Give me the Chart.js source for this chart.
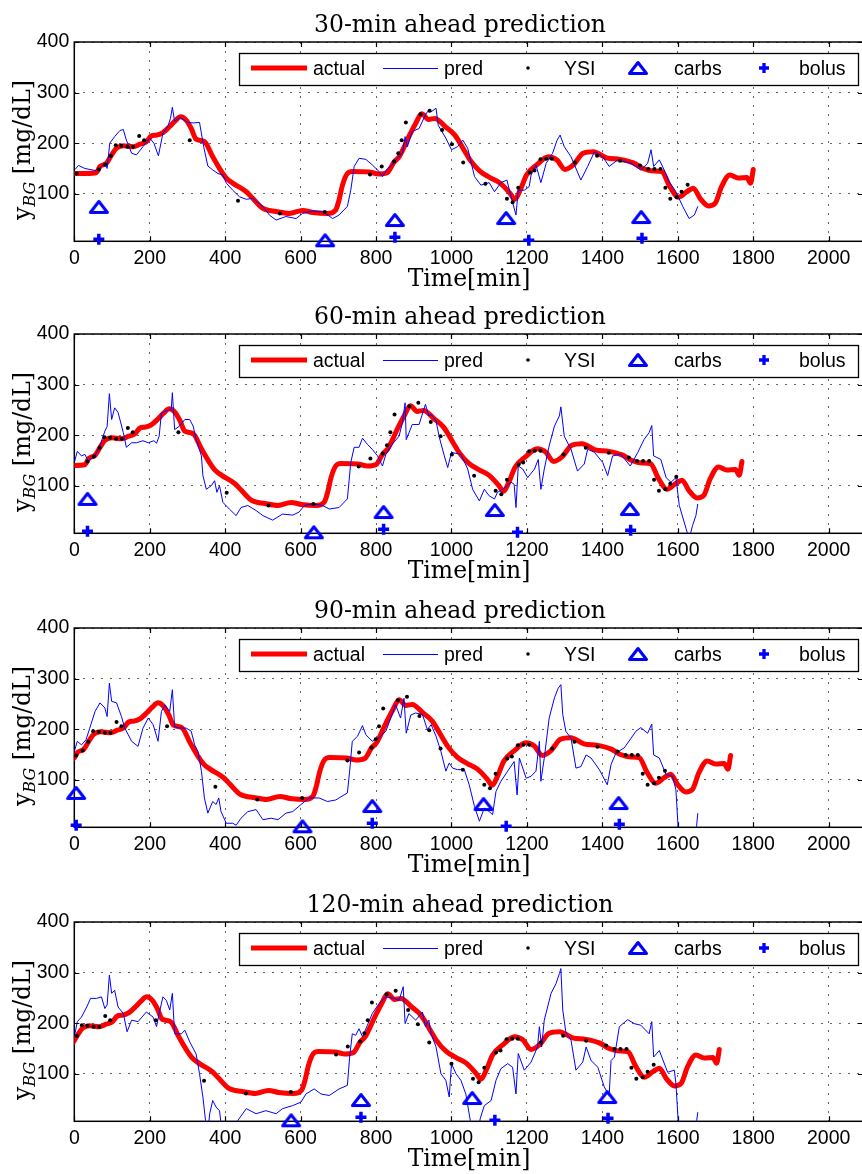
<!DOCTYPE html>
<html>
<head>
<meta charset="utf-8">
<script src="https://cdn.jsdelivr.net/npm/chart.js@4.4.1/dist/chart.umd.min.js"></script>
<style>
  html, body { margin: 0; padding: 0; background: #fff; overflow: hidden; }
  canvas { position: absolute; left: 0; }
</style>
</head>
<body>
<canvas id="c0" width="864" height="294" style="top:0px"></canvas>
<canvas id="c1" width="864" height="294" style="top:292px"></canvas>
<canvas id="c2" width="864" height="294" style="top:586px"></canvas>
<canvas id="c3" width="864" height="294" style="top:880px"></canvas>
<script>
/* Dados: [tempo (min), glicose (mg/dL)] */

const titles = ["30-min ahead prediction", "60-min ahead prediction", "90-min ahead prediction", "120-min ahead prediction"]
const shifts = [0, 30, 60, 90]   // deslocamento de tempo de cada painel
const xTicks = [0, 200, 400, 600, 800, 1000, 1200, 1400, 1600, 1800, 2000]
const yTicks = [100, 200, 300, 400]

const actual = [[0,140],[30,140],[59,142],[68,154],[85,160],[99,177],[112,190],[130,195],[156,193],[174,198],[191,203],[204,214],[218,216],[235,221],[253,233],[266,243],[282,252],[297,245],[310,229],[323,208],[345,203],[367,173],[385,150],[403,131],[420,121],[456,104],[473,91],[500,71],[535,65],[570,61],[605,67],[632,63],[671,61],[693,68],[702,88],[711,117],[724,140],[737,144],[781,143],[808,139],[830,142],[848,163],[861,173],[887,213],[905,239],[921,258],[939,247],[956,249],[983,233],[1009,216],[1036,183],[1049,167],[1076,144],[1102,132],[1129,121],[1155,101],[1168,89],[1182,107],[1199,137],[1226,157],[1257,173],[1279,167],[1301,148],[1323,157],[1349,180],[1376,183],[1411,171],[1447,168],[1482,161],[1508,150],[1535,145],[1557,144],[1579,114],[1601,93],[1624,104],[1641,111],[1659,91],[1681,76],[1699,81],[1716,114],[1738,137],[1760,131],[1783,132],[1793,121],[1800,148]]

const ysi = [[6,140],[65,148],[82,158],[97,175],[110,196],[125,195],[141,193],[156,193],[172,214],[185,206],[306,206],[434,86],[545,61],[664,64],[784,138],[815,154],[848,164],[859,180],[868,206],[879,241],[918,257],[942,264],[975,226],[1001,198],[1031,162],[1090,120],[1147,90],[1162,83],[1177,112],[1208,142],[1220,146],[1236,168],[1251,169],[1266,169],[1327,162],[1386,175],[1447,165],[1500,156],[1522,149],[1538,149],[1554,149],[1567,112],[1580,90],[1597,93],[1610,104],[1626,118]]

const carbs = [[65,74],[665,8],[850,48],[1145,52],[1503,54]]
const bolus = [[65,10],[850,14],[1205,8],[1505,12]]

const pred30 = [[2,148],[11,156],[28,150],[55,146],[68,150],[81,160],[87,150],[94,200],[107,213],[121,225],[130,227],[138,206],[152,180],[165,177],[182,193],[200,210],[211,200],[223,175],[235,220],[248,233],[255,249],[260,271],[266,243],[279,251],[290,246],[301,241],[316,240],[332,241],[343,193],[354,155],[367,147],[381,140],[394,137],[403,121],[420,107],[438,94],[456,89],[473,91],[500,75],[517,58],[535,48],[561,55],[588,51],[605,61],[632,66],[658,65],[685,51],[702,58],[724,75],[733,107],[742,154],[755,170],[773,168],[790,157],[808,144],[817,134],[830,150],[843,157],[856,170],[870,180],[877,213],[883,193],[896,223],[914,229],[931,256],[940,266],[946,262],[959,269],[965,235],[985,210],[1000,187],[1016,193],[1030,206],[1043,190],[1061,134],[1078,117],[1100,122],[1114,104],[1131,122],[1147,127],[1158,94],[1171,58],[1177,107],[1193,107],[1206,114],[1211,137],[1224,157],[1237,122],[1251,160],[1268,180],[1280,206],[1288,216],[1299,193],[1317,173],[1343,127],[1361,154],[1379,183],[1401,173],[1418,154],[1441,167],[1476,160],[1502,147],[1520,160],[1529,187],[1536,154],[1551,167],[1564,147],[1577,124],[1595,104],[1613,75],[1630,51],[1644,58],[1653,75]]

const pred60 = [[0,146],[8,168],[19,159],[28,162],[37,149],[55,159],[68,179],[81,208],[87,217],[93,282],[99,231],[107,254],[116,245],[130,205],[138,176],[152,185],[165,185],[182,189],[196,185],[211,189],[218,184],[225,198],[231,244],[244,248],[257,251],[260,284],[266,211],[279,218],[293,231],[306,231],[315,218],[323,192],[337,159],[341,120],[350,93],[363,100],[372,110],[378,87],[385,100],[394,67],[411,54],[429,41],[442,57],[460,61],[482,51],[500,41],[526,32],[552,44],[579,42],[596,48],[610,61],[632,64],[658,61],[676,54],[702,57],[724,74],[733,146],[742,176],[755,176],[764,194],[777,182],[790,172],[804,159],[817,139],[826,162],[843,182],[861,198],[870,225],[877,264],[880,191],[896,221],[914,221],[931,261],[940,238],[946,241],[959,228],[968,195],[981,159],[990,136],[1000,166],[1025,162],[1043,133],[1056,93],[1074,70],[1087,93],[1100,80],[1114,74],[1122,87],[1136,93],[1158,107],[1166,103],[1171,57],[1177,139],[1189,133],[1202,116],[1220,133],[1230,152],[1237,93],[1246,133],[1259,179],[1273,218],[1286,238],[1290,256],[1299,198],[1317,172],[1334,129],[1352,143],[1361,172],[1379,166],[1401,146],[1414,120],[1427,159],[1449,162],[1474,139],[1494,166],[1511,192],[1524,205],[1531,219],[1536,159],[1555,152],[1569,116],[1582,107],[1595,116],[1604,61],[1622,15],[1630,-5],[1639,21],[1648,41],[1653,64]]

const pred90 = [[0,156],[8,176],[19,169],[31,179],[41,202],[55,235],[68,252],[81,242],[87,225],[93,291],[99,255],[112,252],[125,225],[134,202],[152,176],[169,166],[182,202],[196,222],[209,209],[222,176],[231,235],[240,248],[253,235],[260,278],[266,205],[279,202],[297,202],[310,196],[319,169],[328,156],[337,117],[345,64],[354,34],[367,57],[376,51],[383,64],[389,37],[403,14],[420,14],[429,10],[442,24],[460,37],[482,41],[500,21],[522,24],[540,21],[561,34],[579,37],[601,51],[623,64],[649,64],[671,57],[693,60],[724,74],[730,117],[737,176],[751,186],[764,207],[773,189],[790,176],[808,183],[826,196],[839,222],[852,248],[865,222],[874,261],[880,192],[892,228],[905,232],[923,229],[936,199],[946,209],[959,186],[972,156],[985,117],[994,133],[1003,123],[1016,120],[1034,120],[1047,90],[1061,47],[1074,18],[1087,44],[1100,37],[1109,31],[1118,77],[1131,97],[1149,117],[1166,136],[1174,70],[1180,143],[1198,103],[1211,107],[1224,117],[1233,176],[1237,97],[1246,143],[1259,222],[1273,262],[1283,281],[1290,288],[1295,229],[1303,196],[1317,182],[1330,123],[1343,126],[1357,149],[1370,143],[1392,120],[1413,90],[1423,130],[1436,153],[1458,163],[1476,182],[1489,196],[1502,203],[1520,192],[1531,210],[1536,149],[1551,143],[1569,110],[1586,107],[1595,80],[1601,4],[1604,-30],[1648,-30],[1650,10],[1653,34]]

const pred120 = [[0,173],[8,203],[19,212],[33,232],[43,249],[59,249],[72,252],[81,229],[87,236],[93,295],[99,259],[107,265],[116,232],[130,219],[140,183],[152,206],[169,203],[191,222],[209,212],[218,193],[225,219],[235,252],[244,245],[253,226],[260,259],[266,179],[284,179],[293,186],[306,163],[323,139],[332,100],[341,54],[348,7],[352,-20],[356,0],[359,21],[367,47],[376,34],[385,27],[389,1],[392,-20],[430,-20],[433,7],[456,31],[482,21],[508,27],[535,21],[552,31],[579,37],[601,44],[614,60],[636,70],[654,60],[676,57],[702,70],[724,77],[730,133],[737,179],[746,176],[755,189],[764,173],[777,196],[790,219],[808,239],[826,252],[848,249],[861,245],[872,272],[877,199],[887,219],[905,206],[923,222],[931,193],[940,206],[946,179],[959,153],[972,100],[985,87],[994,54],[1000,120],[1012,100],[1025,87],[1038,60],[1050,7],[1054,-20],[1072,-20],[1076,11],[1087,37],[1105,47],[1118,87],[1131,110],[1149,120],[1162,113],[1171,60],[1177,140],[1193,107],[1211,123],[1228,153],[1233,193],[1239,153],[1246,206],[1264,259],[1277,278],[1286,298],[1290,308],[1295,226],[1303,183],[1317,166],[1330,107],[1348,123],[1357,153],[1370,126],[1388,113],[1405,74],[1418,57],[1423,126],[1432,133],[1445,193],[1467,207],[1485,199],[1502,196],[1524,179],[1531,203],[1536,133],[1551,146],[1573,103],[1591,107],[1595,80],[1601,7],[1604,-30],[1648,-30],[1650,7],[1653,24]]

const preds = [pred30, pred60, pred90, pred120]

/* Estilos */
const sans = '"Liberation Sans", Arial, sans-serif'
const serif = '"DejaVu Serif", serif'
const gridColor = 'rgba(0,0,0,0.6)'

/* Marcador de triângulo (carbs) */
function criaTriangulo(){
    const c = document.createElement('canvas')
    c.width = 24
    c.height = 20
    const g = c.getContext('2d')
    g.strokeStyle = '#0000ff'
    g.lineWidth = 3
    g.lineJoin = 'round'
    g.beginPath()
    g.moveTo(12, 4.5)
    g.lineTo(20.5, 15.5)
    g.lineTo(3.5, 15.5)
    g.closePath()
    g.stroke()
    return c
}
const triangulo = criaTriangulo()

function desenhaMais(ctx, x, y, r, w){
    ctx.save()
    ctx.strokeStyle = '#0000ff'
    ctx.lineWidth = w
    ctx.beginPath()
    ctx.moveTo(x - r, y); ctx.lineTo(x + r, y)
    ctx.moveTo(x, y - r); ctx.lineTo(x, y + r)
    ctx.stroke()
    ctx.restore()
}

/* Moldura, ticks internos, títulos e legenda */
const molduraPlugin = {
    id: 'moldura',
    beforeDatasetsDraw(chart){
        const ctx = chart.ctx
        const a = chart.chartArea
        const xs = chart.scales.x, ys = chart.scales.y
        ctx.save()
        ctx.strokeStyle = '#000'
        ctx.lineWidth = 1.5
        ctx.strokeRect(a.left, a.top, a.right - a.left, a.bottom - a.top)
        ctx.lineWidth = 1.2
        ctx.beginPath()
        xTicks.forEach(v => {
            const px = Math.round(xs.getPixelForValue(v)) + 0.5
            ctx.moveTo(px, a.bottom); ctx.lineTo(px, a.bottom - 5)
            ctx.moveTo(px, a.top); ctx.lineTo(px, a.top + 5)
        })
        yTicks.forEach(v => {
            const py = Math.round(ys.getPixelForValue(v)) + 0.5
            ctx.moveTo(a.left, py); ctx.lineTo(a.left + 5, py)
            ctx.moveTo(a.right, py); ctx.lineTo(a.right - 5, py)
        })
        ctx.stroke()
        ctx.restore()
    },
    afterDraw(chart){
        const ctx = chart.ctx
        const i = chart.options.plugins.moldura.painel
        ctx.save()
        ctx.fillStyle = '#000'
        // título
        ctx.font = '23.5px ' + serif
        ctx.textAlign = 'center'
        ctx.textBaseline = 'alphabetic'
        ctx.fillText(titles[i], 460, 32)
        // rótulo x
        ctx.fillText('Time[min]', 469, 286)
        // rótulo y com subscrito
        ctx.translate(30, 150)
        ctx.rotate(-Math.PI / 2)
        ctx.textAlign = 'left'
        const fGrande = '23.5px ' + serif
        const fSub = 'italic 16px ' + serif
        ctx.font = fGrande
        const w1 = ctx.measureText('y').width
        const w3 = ctx.measureText(' [mg/dL]').width
        ctx.font = fSub
        const w2 = ctx.measureText('BG').width
        let x = -(w1 + w2 + w3) / 2
        ctx.font = fGrande
        ctx.fillText('y', x, 0)
        x += w1
        ctx.font = fSub
        ctx.fillText('BG', x, 5)
        x += w2
        ctx.font = fGrande
        ctx.fillText(' [mg/dL]', x, 0)
        ctx.restore()

        // legenda
        const ds = chart.data.datasets
        const yc = 69
        ctx.save()
        ctx.fillStyle = '#fff'
        ctx.fillRect(239, 53, 619, 32)
        ctx.strokeStyle = '#000'
        ctx.lineWidth = 1.3
        ctx.strokeRect(239.5, 53.5, 619, 32)
        ctx.lineCap = 'butt'
        ctx.strokeStyle = '#ff0000'
        ctx.lineWidth = 5
        ctx.beginPath(); ctx.moveTo(251, yc - 1); ctx.lineTo(307, yc - 1); ctx.stroke()
        ctx.strokeStyle = '#0000ff'
        ctx.lineWidth = 1
        ctx.beginPath(); ctx.moveTo(383, yc - 0.5); ctx.lineTo(438, yc - 0.5); ctx.stroke()
        ctx.fillStyle = '#000'
        ctx.beginPath(); ctx.arc(528, yc - 1, 1.8, 0, Math.PI * 2); ctx.fill()
        ctx.drawImage(triangulo, 638 - 12, yc - 1 - 10)
        desenhaMais(ctx, 764, yc - 1, 5, 3.3)
        ctx.font = '19.5px ' + sans
        ctx.textAlign = 'left'
        ctx.textBaseline = 'middle'
        const posTexto = [313, 444, 564, 674, 799]
        ds.forEach((d, k) => ctx.fillText(d.label, posTexto[k], yc + 1))
        ctx.restore()
    }
}

function pontos(lista, shift){
    return lista.map(p => ({x: p[0] - shift, y: p[1]}))
}
function pontosVisiveis(lista, shift){
    return pontos(lista, shift).filter(p => p.x >= 0)
}

function criaPainel(i){
    const canvas = document.getElementById('c' + i)
    const s = shifts[i]
    return new Chart(canvas, {
        type: 'line',
        data: {
            datasets: [
                { label: 'actual', data: pontos(actual, s), borderColor: '#ff0000', borderWidth: 5,
                  pointRadius: 0, cubicInterpolationMode: 'monotone', borderCapStyle: 'round',
                  borderJoinStyle: 'round', order: 5 },
                { label: 'pred', data: pontos(preds[i], 0), borderColor: '#0000ff', borderWidth: 1,
                  pointRadius: 0, tension: 0, order: 4 },
                { label: 'YSI', data: pontosVisiveis(ysi, s), showLine: false, pointRadius: 2,
                  pointBackgroundColor: '#000', pointBorderWidth: 0, clip: false, order: 3 },
                { label: 'carbs', data: pontosVisiveis(carbs, s), showLine: false, pointStyle: triangulo,
                  pointRadius: 9, clip: false, order: 2 },
                { label: 'bolus', data: pontosVisiveis(bolus, s), showLine: false, pointStyle: 'cross',
                  pointRadius: 5.5, pointBorderWidth: 3.5, pointBorderColor: '#0000ff', clip: false, order: 1 }
            ]
        },
        options: {
            responsive: false,
            animation: false,
            events: [],
            layout: { autoPadding: false, padding: { top: 42, right: 1, left: 0, bottom: 0 } },
            plugins: {
                legend: { display: false },
                tooltip: { enabled: false },
                moldura: { painel: i }
            },
            scales: {
                x: {
                    type: 'linear', min: 0, max: 2091,
                    afterBuildTicks: sc => { sc.ticks = xTicks.map(v => ({value: v})) },
                    afterFit: sc => { sc.height = 52.7; sc.paddingLeft = 0; sc.paddingRight = 0 },
                    ticks: { color: '#000', font: { family: sans, size: 19.5 }, padding: 6, maxRotation: 0,
                             autoSkip: false, callback: v => String(v) },
                    grid: { color: gridColor, drawTicks: false, lineWidth: 1 },
                    border: { display: false, dash: [2, 7] }
                },
                y: {
                    type: 'linear', min: 6, max: 400,
                    afterBuildTicks: sc => { sc.ticks = yTicks.map(v => ({value: v})) },
                    afterFit: sc => { sc.width = 74.3; sc.paddingTop = 0; sc.paddingBottom = 0 },
                    ticks: { color: '#000', font: { family: sans, size: 19.5 }, padding: 5, callback: v => String(v) },
                    grid: { color: gridColor, drawTicks: false, lineWidth: 1 },
                    border: { display: false, dash: [2, 7] }
                }
            }
        },
        plugins: [molduraPlugin]
    })
}

titles.forEach((t, i) => criaPainel(i))
</script>
</body>
</html>
